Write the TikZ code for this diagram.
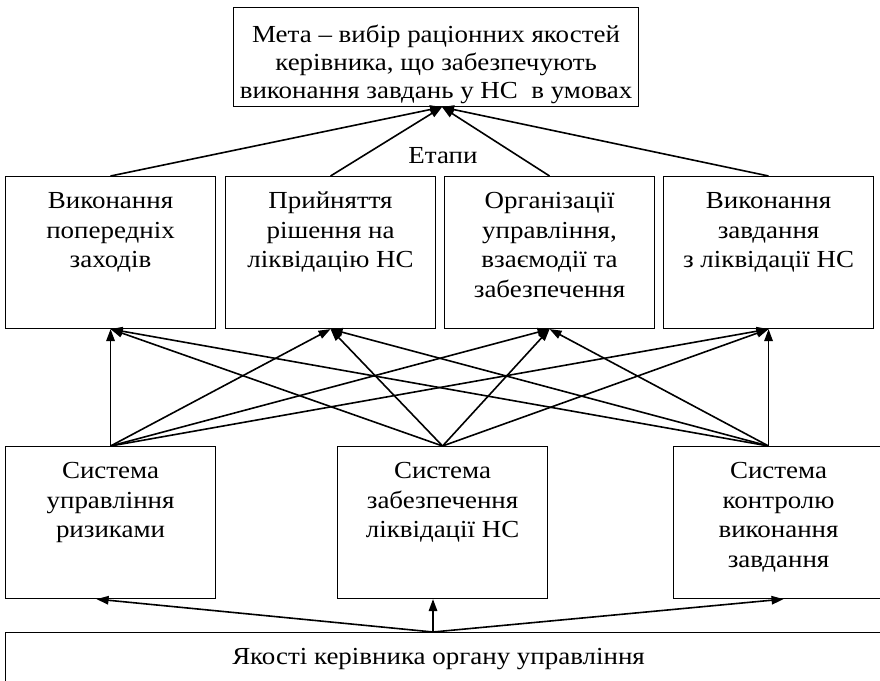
\documentclass[tikz,border=0pt]{standalone}
\usepackage{fontspec}
\setmainfont{Liberation Serif}[FakeStretch=1.1]
\usetikzlibrary{arrows.meta}

% top-aligned text inside a box of fixed size
\newcommand{\boxtext}[4][32pt]{\parbox[c][#2][t]{#3}{\centering\rule{0pt}{#1}#4}}

\begin{document}
\begin{tikzpicture}[x=1pt,y=1pt,yscale=-1,
        box/.style={draw, line width=1.1pt, inner sep=0pt, anchor=north west, font=\fontsize{24.5}{29.7}\selectfont},
        arr/.style={-{Triangle[length=12pt,width=8.5pt]}, line width=1.6pt}]
        \useasboundingbox (0,0) rectangle (880,680);
        
        % Goal
        \node[box, font=\fontsize{24.5}{27.8}\selectfont] (goal) at (233,7) {\boxtext[35pt]{99pt}{405pt}{Мета – вибір раціонних якостей\\керівника, що забезпечують\\виконання завдань у НС\ \ в умовах}};
        \node[font=\fontsize{24.5}{29.7}\selectfont, anchor=base] (etapy) at (443,163) {Етапи};
        
        % Stages
        \node[box] (e1) at (5,176) {\boxtext{152pt}{210pt}{Виконання\\попередніх\\заходів}};
        \node[box] (e2) at (225,176) {\boxtext{152pt}{210pt}{Прийняття\\рішення на\\ліквідацію НС}};
        \node[box] (e3) at (444,176) {\boxtext{152pt}{210pt}{Організації\\управління,\\взаємодії та\\забезпечення}};
        \node[box] (e4) at (663,176) {\boxtext{152pt}{210pt}{Виконання\\завдання\\з ліквідації НС}};
        
        % Systems
        \node[box] (sA) at (5,446) {\boxtext{152pt}{210pt}{Система\\управління\\ризиками}};
        \node[box] (sB) at (337,446) {\boxtext{152pt}{210pt}{Система\\забезпечення\\ліквідації НС}};
        \node[box] (sC) at (673,446) {\boxtext{152pt}{210pt}{Система\\контролю\\виконання\\завдання}};
        
        % Qualities (runs past the right edge)
        \node[box] (q) at (5,632) {\boxtext{70pt}{866pt}{Якості керівника органу управління}\kern14pt};
        
        \coordinate (gtip) at ([xshift=6]goal.south);
        \coordinate (oA) at (e1.south |- sA.north);
        \coordinate (oB) at (sB.north);
        \coordinate (oC) at (e4.south |- sC.north);
        \coordinate (qtop) at (433,632);
        
        \foreach \s in {e1,e2,e3,e4}
            \draw[arr] (\s.north) -- (gtip);
        \foreach \o in {oA,oB,oC}
            \foreach \s in {e1,e2,e3,e4}
                \draw[arr] (\o) -- (\s.south);
        
        \draw[arr] (qtop) -- ([xshift=-14]sA.south);
        \draw[arr] (qtop) -- (qtop |- sB.south);
        \draw[arr] (qtop) -- ([xshift=5]sC.south);
        
\end{tikzpicture}
\end{document}
